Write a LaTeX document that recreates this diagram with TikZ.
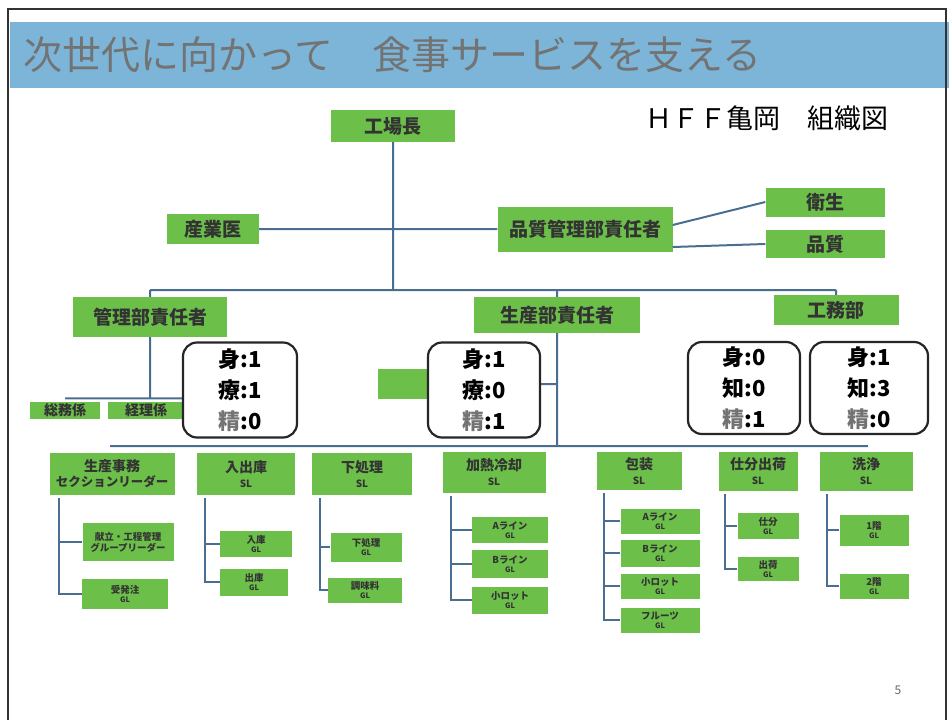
\documentclass[tikz,border=0pt]{standalone}
\usepackage{fontspec}
\setmainfont{Noto Sans CJK JP}
\definecolor{band}{RGB}{125,181,216}
\definecolor{leaf}{RGB}{108,192,74}
\definecolor{linkblue}{RGB}{74,110,145}
\tikzstyle{unit}=[fill=leaf, inner sep=0pt, text=black!80, align=center]
\tikzstyle{big}=[font=\bfseries\fontsize{19}{21}\selectfont]
\tikzstyle{small}=[font=\bfseries\fontsize{14}{16}\selectfont]
\tikzstyle{sl}=[font=\bfseries\fontsize{14}{17}\selectfont]
\tikzstyle{gl}=[font=\bfseries\fontsize{9.5}{11}\selectfont]
\tikzstyle{tally}=[draw=black!85, line width=2.2pt, rounded corners=14pt, fill=white, inner sep=0pt, align=center, font=\bfseries\fontsize{22}{31}\selectfont]
\tikzstyle{link}=[draw=linkblue, line width=2pt]
\newcommand{\slsub}{\\[-2pt]{\fontsize{10}{12}\selectfont SL}}
\newcommand{\glsub}{\\[-2pt]{\fontsize{7.5}{9}\selectfont GL}}
\newcommand{\seika}{{\color{black!55}精}}

\begin{document}
\begin{tikzpicture}[x=1pt, y=-1pt]
    \useasboundingbox (0,0) rectangle (949,720);
    \fill[band] (10,22) rectangle (949,88);
    \draw[black!80, line width=1.5pt] (8,720) -- (8,9) -- (946,9) -- (946,720);
    \node[anchor=west, text=black!55, font=\fontsize{39}{40}\selectfont] (title) at (20,55) {次世代に向かって　食事サービスを支える};
    \node[font=\fontsize{27}{30}\selectfont] (name) at (767,118) {ＨＦＦ亀岡　組織図};
    \node[text=black!60, font=\fontsize{12}{14}\selectfont] (page) at (898,690) {5};

    % upper levels
    \node[unit, big, minimum width=124pt, minimum height=32pt] (plant) at (393,126) {工場長};
    \node[unit, big, minimum width=92pt, minimum height=30pt] (doctor) at (213,229) {産業医};
    \node[unit, big, minimum width=175pt, minimum height=45pt] (quality) at (585,229) {品質管理部責任者};
    \node[unit, big, minimum width=119pt, minimum height=29pt] (hygiene) at (825,202) {衛生};
    \node[unit, big, minimum width=119pt, minimum height=28pt] (qc) at (825,244) {品質};
    \node[unit, big, minimum width=154pt, minimum height=40pt] (admin) at (150,317) {管理部責任者};
    \node[unit, big, minimum width=166pt, minimum height=36pt] (prod) at (557,315) {生産部責任者};
    \node[unit, big, minimum width=125pt, minimum height=30pt] (works) at (836,310) {工務部};
    \node[unit, small, minimum width=70pt, minimum height=17pt] (general) at (65,410) {総務係};
    \node[unit, small, minimum width=76pt, minimum height=17pt] (accounts) at (146,410) {経理係};
    \node[unit, minimum width=62pt, minimum height=30pt] (extra) at (409,384) {};

    \coordinate (busL) at (150,290);
    \coordinate (busR) at (836,290);
    \coordinate (lowL) at (110,446);
    \coordinate (lowR) at (868,446);
    \draw[link]
        (plant.south) -- (plant.south |- busL)
        (doctor.east) -- (quality.west)
        ([yshift=4pt]quality.east) -- (hygiene.west)
        ([yshift=-18pt]quality.east) -- (qc.west)
        (busL) -- (busR)
        (busL) -- (admin.north)
        (busR) -- (works.north)
        (prod.north |- busL) -- (prod.north)
        (admin.south) -- ([yshift=3pt]admin.south |- general.north)
        ([yshift=3pt]general.north) -- ([yshift=3pt]accounts.north east)
        (prod.south) -- (prod.south |- lowL)
        (extra.east) -- (extra.east -| prod.south)
        (lowL) -- (lowR)
    ;

    % sections
    \node[unit, sl, minimum width=125pt, minimum height=42pt] (office) at (112,474) {生産事務\\[-2pt]{\fontsize{12.5}{14}\selectfont セクションリーダー}};
    \node[unit, gl, minimum width=91pt, minimum height=38pt] (menu) at (128,542) {献立・工程管理\\グループリーダー};
    \node[unit, gl, minimum width=86pt, minimum height=30pt] (order) at (125,594) {受発注\glsub};

    \node[unit, sl, minimum width=98pt, minimum height=42pt] (store) at (246,474) {入出庫\slsub};
    \node[unit, gl, minimum width=72pt, minimum height=26pt] (storein) at (256,544) {入庫\glsub};
    \node[unit, gl, minimum width=68pt, minimum height=27pt] (storeout) at (254,582) {出庫\glsub};

    \node[unit, sl, minimum width=100pt, minimum height=42pt] (prep) at (362,474) {下処理\slsub};
    \node[unit, gl, minimum width=71pt, minimum height=29pt] (prepgl) at (366,547) {下処理\glsub};
    \node[unit, gl, minimum width=74pt, minimum height=25pt] (season) at (365,590) {調味料\glsub};

    \node[unit, sl, minimum width=103pt, minimum height=41pt] (cook) at (494,472) {加熱冷却\slsub};
    \node[unit, gl, minimum width=76pt, minimum height=26pt] (cooka) at (510,530) {Aライン\glsub};
    \node[unit, gl, minimum width=76pt, minimum height=28pt] (cookb) at (510,564) {Bライン\glsub};
    \node[unit, gl, minimum width=76pt, minimum height=27pt] (cooks) at (510,600) {小ロット\glsub};

    \node[unit, sl, minimum width=85pt, minimum height=38pt] (pack) at (639,471) {包装\slsub};
    \node[unit, gl, minimum width=79pt, minimum height=25pt] (packa) at (660,521) {Aライン\glsub};
    \node[unit, gl, minimum width=79pt, minimum height=27pt] (packb) at (660,553) {Bライン\glsub};
    \node[unit, gl, minimum width=79pt, minimum height=25pt] (packs) at (660,586) {小ロット\glsub};
    \node[unit, gl, minimum width=79pt, minimum height=25pt] (packf) at (660,620) {フルーツ\glsub};

    \node[unit, sl, minimum width=79pt, minimum height=39pt] (ship) at (758,471) {仕分出荷\slsub};
    \node[unit, gl, minimum width=61pt, minimum height=26pt] (sort) at (768,526) {仕分\glsub};
    \node[unit, gl, minimum width=61pt, minimum height=24pt] (send) at (768,569) {出荷\glsub};

    \node[unit, sl, minimum width=93pt, minimum height=39pt] (wash) at (866,471) {洗浄\slsub};
    \node[unit, gl, minimum width=69pt, minimum height=31pt] (washa) at (874,530) {1階\glsub};
    \node[unit, gl, minimum width=69pt, minimum height=25pt] (washb) at (874,586) {2階\glsub};

    \draw[link]
        ([xshift=10pt, yshift=-3pt]office.south west) |- (order.west)
        (menu.west) -- +(-22,0)
        ([xshift=8pt, yshift=-3pt]store.south west) |- (storeout.west)
        (storein.west) -- +(-15,0)
        ([xshift=8pt, yshift=-3pt]prep.south west) |- (season.west)
        (prepgl.west) -- +(-11,0)
        ([xshift=9pt, yshift=-3pt]cook.south west) |- (cooks.west)
        (cooka.west) -- +(-20,0)
        (cookb.west) -- +(-20,0)
        ([xshift=8pt, yshift=-3pt]pack.south west) |- (packf.west)
        (packa.west) -- +(-16,0)
        (packb.west) -- +(-16,0)
        (packs.west) -- +(-16,0)
        ([xshift=7pt, yshift=-3pt]ship.south west) |- (send.west)
        (sort.west) -- +(-12,0)
        ([xshift=8pt, yshift=-3pt]wash.south west) |- (washb.west)
        (washa.west) -- +(-12,0)
    ;

    % head counts
    \node[tally, minimum width=114pt, minimum height=95pt] (countadmin) at (240,390) {身:1\\療:1\\\seika:0};
    \node[tally, minimum width=112pt, minimum height=95pt] (countprod) at (484,390) {身:1\\療:0\\\seika:1};
    \node[tally, minimum width=112pt, minimum height=92pt] (countqc) at (744,388) {身:0\\知:0\\\seika:1};
    \node[tally, minimum width=118pt, minimum height=92pt] (countworks) at (869,388) {身:1\\知:3\\\seika:0};
\end{tikzpicture}
\end{document}
